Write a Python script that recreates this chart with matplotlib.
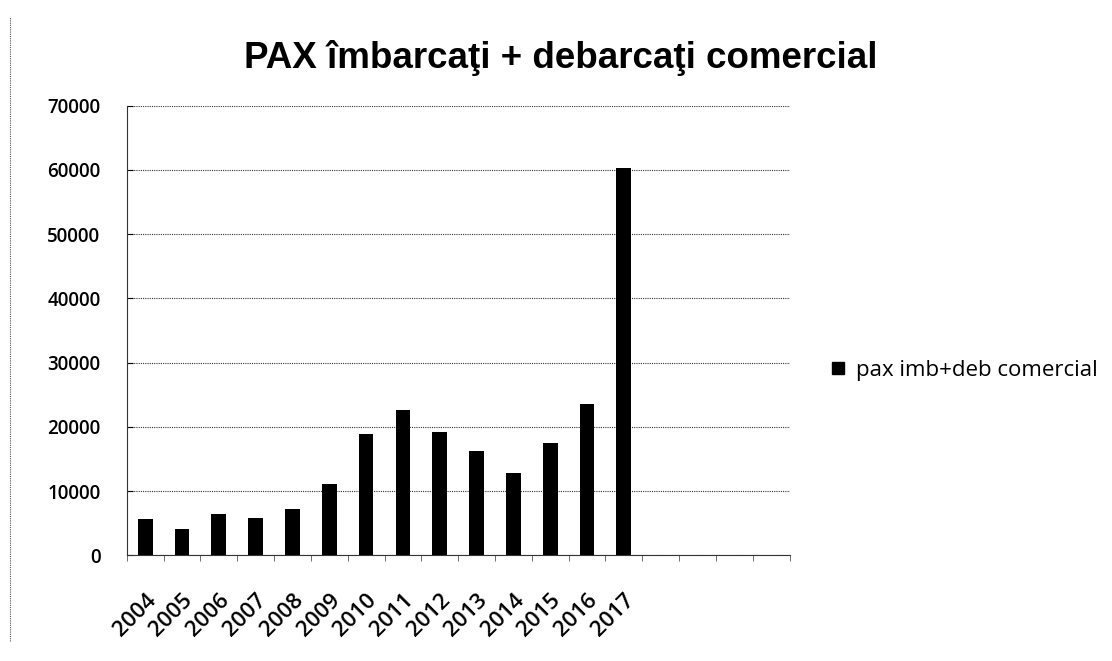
import matplotlib
matplotlib.use("Agg")
import matplotlib.pyplot as plt
from matplotlib.lines import Line2D

years = ["2004", "2005", "2006", "2007", "2008", "2009", "2010",
         "2011", "2012", "2013", "2014", "2015", "2016", "2017"]
pax = [5600, 4050, 6400, 5800, 7200, 11100, 18900,
       22600, 19200, 16200, 12800, 17500, 23600, 60300]
empty_slots = ["", "", "", ""]
categories = years + empty_slots
yticks = [0, 10000, 20000, 30000, 40000, 50000, 60000, 70000]
title = "PAX îmbarcaţi + debarcaţi comercial"
series_name = "pax imb+deb comercial"

fig = plt.figure(figsize=(11.12, 6.61), dpi=100)
ax = fig.add_axes([0.114, 0.160, 0.596, 0.680])

xpos = list(range(len(categories)))
ax.bar(xpos[:len(pax)], pax, width=0.4, color="black", label=series_name, zorder=3)

ax.set_xlim(-0.5, len(categories) - 0.5)
ax.set_ylim(0, 70000)
ax.set_yticks(yticks)
ax.set_yticklabels([str(v) for v in yticks], fontsize=13.5, fontweight="semibold",
                   family=["Open Sans", "DejaVu Sans"])
ax.set_xticks(xpos[:len(years)])
ax.set_xticklabels(years, rotation=45, ha="right", rotation_mode="anchor",
                   fontsize=16, fontweight="semibold", family=["Open Sans", "DejaVu Sans"])
ax.tick_params(axis="x", length=0, pad=25)
ax.tick_params(axis="y", length=4, width=0.8, direction="in", pad=19)
# minor ticks between categories
ax.set_xticks([i + 0.5 for i in range(-1, len(categories))], minor=True)
ax.tick_params(axis="x", which="minor", length=4, width=0.6, direction="out", color="#555555")

ax.grid(axis="y", linestyle=(0, (1, 1)), color="#333333", linewidth=0.8, zorder=0)
for s in ["top", "right"]:
    ax.spines[s].set_visible(False)
ax.spines["left"].set_linestyle((0, (1, 1)))
ax.spines["left"].set_color("#333333")
ax.spines["bottom"].set_linestyle((0, (1, 1)))
ax.spines["bottom"].set_color("#333333")

fig.text(0.504, 0.912, title, ha="center", va="center", fontsize=26.5,
         fontweight="bold", family=["Liberation Sans", "DejaVu Sans"])

leg = fig.legend(handles=[Line2D([], [], marker="s", color="black", linestyle="",
                                 markersize=8, label=series_name)],
                 loc="center left", bbox_to_anchor=(0.726, 0.44), frameon=False,
                 handlelength=1.0, handletextpad=0.3,
                 prop={"family": ["Open Sans", "DejaVu Sans"], "size": 16})

# scanned border on the left
fig.add_artist(Line2D([0.009, 0.009], [0.03, 0.975], transform=fig.transFigure,
                      linestyle=(0, (1, 1)), color="#555555", linewidth=0.8))

fig.savefig("out.png", dpi=100)
